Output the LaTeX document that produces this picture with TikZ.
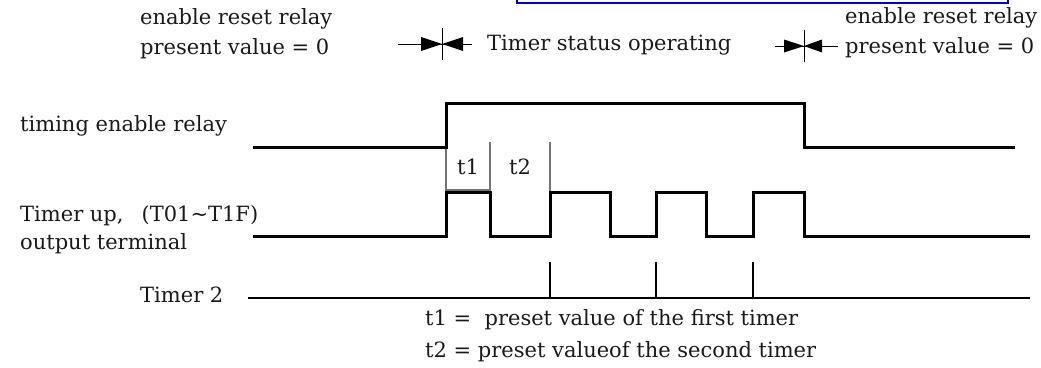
\documentclass[tikz,border=0pt]{standalone}
\usepackage{fontspec}
\setmainfont{DejaVu Serif}
\begin{document}
\begin{tikzpicture}[x=1pt,y=-1pt,
  sig/.style={line width=3pt, line join=miter},
  mk/.style={line width=1.1pt, black!55},
  tick/.style={line width=2.5pt},
  lbl/.style={font=\fontsize{21}{30}\selectfont, inner sep=0pt, align=left, text=black!90},
  dim/.style={line width=1pt},
  tri/.style={fill=black}]
\useasboundingbox (0,0) rectangle (1041,367);

% blue frame remnant at top
\draw[blue!75!black, line width=1.6pt] (517,-3) -- (517,3) -- (1008,3) -- (1008,-3);

% labels
\node[lbl,anchor=west] (rst1) at (140,34) {enable reset relay\\present value = 0};
\node[lbl,anchor=west] (op) at (487,45) {Timer status operating};
\node[lbl,anchor=west] (rst2) at (845,33) {enable reset relay\\present value = 0};
\node[lbl,anchor=west] (ter) at (20,126) {timing enable relay};
\node[lbl,anchor=west] (tup) at (20,216) {Timer up,\hspace{18pt}(T01\textasciitilde T1F)};
\node[lbl,anchor=west] (out) at (20,244) {output terminal};
\node[lbl,anchor=west] (tm2) at (140,295) {Timer 2};
\node[lbl,anchor=west] (d1) at (425,320) {t1 =\ \ preset value of the first timer};
\node[lbl,anchor=west] (d2) at (425,352) {t2 = preset valueof the second timer};
\node[lbl] (t1l) at (468,167) {t1};
\node[lbl] (t2l) at (520,167) {t2};

% start / end markers
\draw[dim] (398,44) -- (472,44);
\draw[dim] (442,28) -- (442,60);
\fill[tri] (421,37) -- (442,44) -- (421,51) -- cycle;
\fill[tri] (463,37) -- (442,44) -- (463,51) -- cycle;
\draw[dim] (775,46) -- (838,46);
\draw[dim] (804,30) -- (804,62);
\fill[tri] (784,39.5) -- (804,46) -- (784,52.5) -- cycle;
\fill[tri] (822,39.5) -- (804,46) -- (822,52.5) -- cycle;

% t1 / t2 markers
\draw[mk] (446,147) -- (446,192);
\draw[mk] (446,190) -- (490,190);
\draw[mk] (490,142) -- (490,192);
\draw[mk] (550,142) -- (550,192);

% timing enable relay
\draw[sig] (253,147) -- (446,147) -- (446,103) -- (804,103) -- (804,147) -- (1015,147);

% timer up output
\draw[sig] (253,236) -- (446,236) -- (446,192) -- (490,192) -- (490,236)
  -- (550,236) -- (550,192) -- (610,192) -- (610,236)
  -- (656,236) -- (656,192) -- (706,192) -- (706,236)
  -- (753,236) -- (753,192) -- (804,192) -- (804,236) -- (1030,236);

% timer 2
\draw[tick] (248,298) -- (1030,298);
\draw[tick] (550,262) -- (550,298);
\draw[tick] (656,262) -- (656,298);
\draw[tick] (753,262) -- (753,298);
\end{tikzpicture}
\end{document}
